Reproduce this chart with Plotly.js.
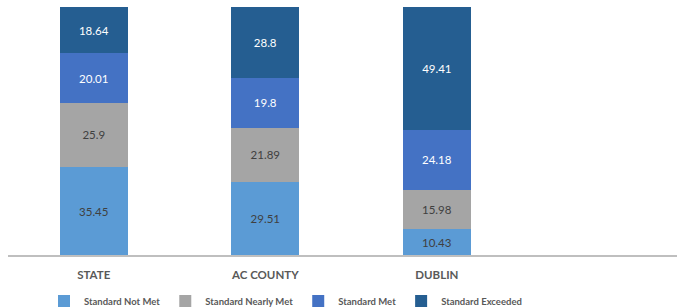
<!DOCTYPE html>
<html><head><meta charset="utf-8">
<script src="https://cdn.plot.ly/plotly-3.0.1.min.js"></script>
<style>html,body{margin:0;padding:0;background:#fff}#chart{width:677px;height:308px}</style>
</head><body><div id="chart"></div>
<script>
const categories = ["STATE", "AC COUNTY", "DUBLIN"];
const seriesNames = ["Standard Not Met", "Standard Nearly Met", "Standard Met", "Standard Exceeded"];
const notMet = [35.45, 29.51, 10.43];
const nearlyMet = [25.9, 21.89, 15.98];
const met = [20.01, 19.8, 24.18];
const exceeded = [18.64, 28.8, 49.41];

const values = [notMet, nearlyMet, met, exceeded];
const colors = ["#5B9BD5", "#A5A5A5", "#4472C4", "#255E91"];
const textColors = ["#404040", "#404040", "#ffffff", "#ffffff"];
const FONT = "Lato, 'Liberation Sans', sans-serif";

const traces = values.map((v, i) => ({
  type: "bar",
  name: seriesNames[i],
  x: categories,
  y: v,
  text: v.map(String),
  textposition: "inside",
  insidetextanchor: "middle",
  textangle: 0,
  constraintext: "none",
  textfont: {family: FONT, size: 11.5, color: textColors[i]},
  marker: {color: colors[i], line: {width: 0}},
  hoverinfo: "skip"
}));

const layout = {
  width: 677, height: 308,
  margin: {l: 8, r: 0, t: 7, b: 53, autoexpand: false},
  barmode: "stack",
  bargap: 0.603,
  paper_bgcolor: "#fff",
  plot_bgcolor: "#fff",
  font: {family: FONT, color: "#595959"},
  xaxis: {
    range: [-0.5, 3.4],
    showline: true, linecolor: "#BFBFBF", linewidth: 1.5,
    ticks: "", showgrid: false, zeroline: false,
    ticklabelstandoff: 9,
    tickfont: {size: 11.5, color: "#595959", family: FONT, weight: "bold"}
  },
  yaxis: {
    range: [0, 100], visible: false, showgrid: false, zeroline: false
  },
  showlegend: true,
  legend: {
    orientation: "h",
    xref: "container", yref: "container",
    x: 44 / 677, xanchor: "left", y: 7 / 308, yanchor: "middle",
    font: {size: 9.5, color: "#595959", family: FONT, weight: "bold"},
    traceorder: "normal", itemwidth: 30
  }
};

Plotly.newPlot("chart", traces, layout, {staticPlot: true, displayModeBar: false});
</script></body></html>
